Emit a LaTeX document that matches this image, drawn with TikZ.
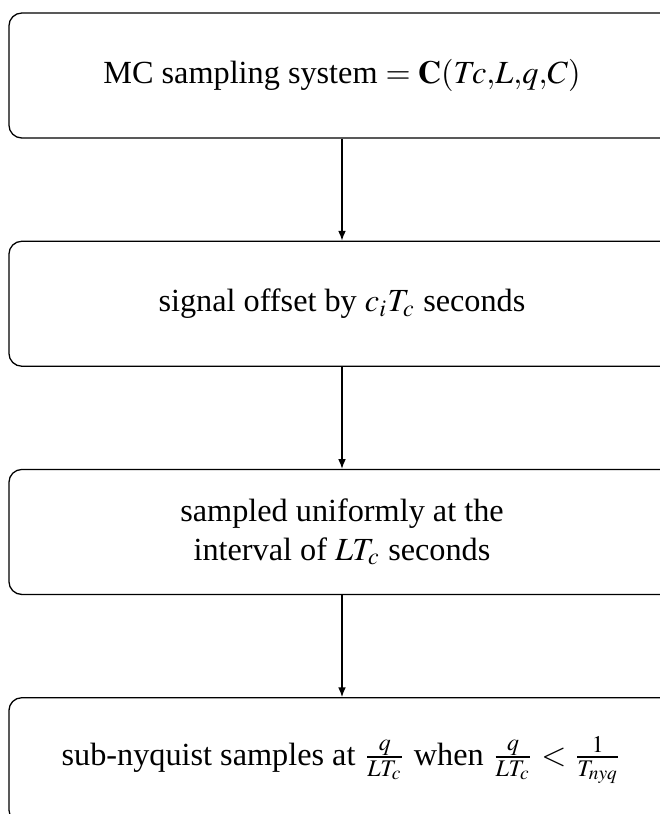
\documentclass[tikz,border=0pt]{standalone}
\usepackage{amsmath}
\usepackage{mathptmx}
\usepackage{fontspec}
\setmainfont{Liberation Serif}
\usepackage{tikz}
\usetikzlibrary{arrows.meta, positioning}

\begin{document}
\begin{tikzpicture}[x=0.31pt, y=0.31pt, node distance=31.6pt,
    stagebox/.style={draw, rounded corners, align=center, minimum width=206.5pt, minimum height=38.75pt},
    flow/.style={-{Latex[length=3pt, width=2.4pt]}}]
    \useasboundingbox (0,0) rectangle (659,-814);

    % MC sampling chain
    \node[stagebox] (mcsys) at (342,-75.5) {MC sampling system $=\mathbf{C}(T\!c{,}L{,}q{,}C)$};
    \node[stagebox, below=of mcsys] (offset) {signal offset by $c_iT_c$ seconds};
    \node[stagebox, below=of offset] (uniform) {sampled uniformly at the\\ interval of $LT_c$ seconds};
    \node[stagebox, below=of uniform] (subnyq) {sub-nyquist samples at $\frac{q}{LT_c}$ when $\frac{q}{LT_c} < \frac{1}{T_{nyq}}$};

    \draw[flow] (mcsys) -- (offset);
    \draw[flow] (offset) -- (uniform);
    \draw[flow] (uniform) -- (subnyq);
\end{tikzpicture}
\end{document}
